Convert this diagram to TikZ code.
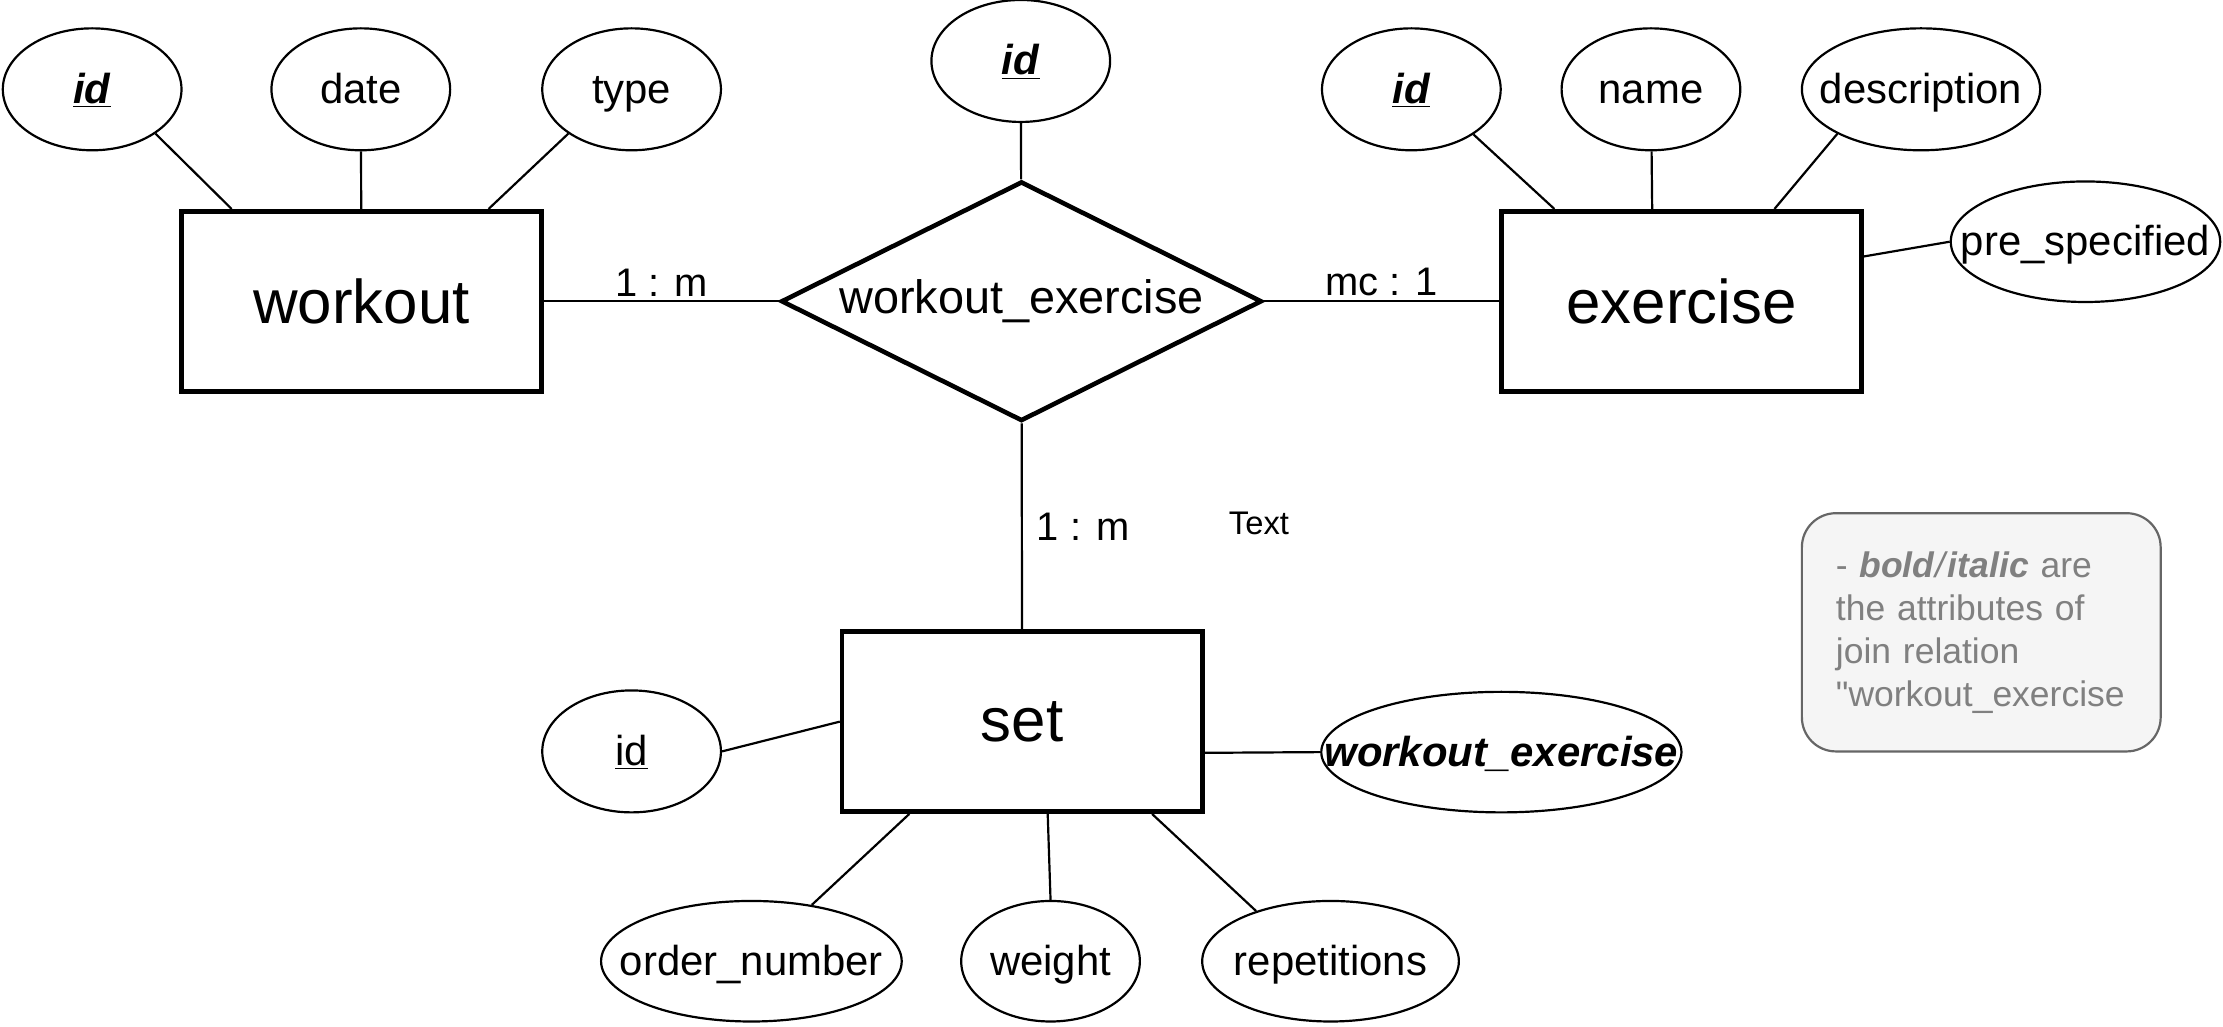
\documentclass[tikz,border=0pt]{standalone}
\usepackage{fontspec}
\setmainfont{Liberation Sans}
\newfontfamily\quotefont{Liberation Sans}
\usepackage{tikz}
\usetikzlibrary{shapes.geometric, positioning}
\definecolor{cN}{HTML}{F5F5F5}
\definecolor{cB}{HTML}{666666}
\definecolor{cT}{HTML}{808080}

\begin{document}
\begin{tikzpicture}[x=0.025cm, y=-0.025cm, line width=1.1pt,
                    entity/.style={rectangle, draw, line width=2.3pt, minimum width=6.35cm, minimum height=3.175cm,
                                   font=\fontsize{31}{37}\selectfont},
                    relation/.style={diamond, draw, line width=2.3pt, aspect=2, inner sep=0pt,
                                     minimum width=8.475cm, minimum height=4.225cm, font=\fontsize{23.5}{28}\selectfont},
                    attr/.style={ellipse, draw, line width=1.1pt, inner sep=0pt, minimum width=3.15cm, minimum height=2.15cm,
                                 label={[font=\fontsize{21}{25}\selectfont, text height=17pt, text depth=3pt]center:#1}},
                    card/.style={font=\fontsize{20}{24}\selectfont, inner sep=2pt}]
    \useasboundingbox (0,0) rectangle (1568,724);

    % Node Placements
    \node[entity]   (W) at (255,212.5)  {workout};
    \node[relation] (R) at (720.5,212.5) {workout\_exercise};
    \node[entity]   (E) at (1186,212.5) {exercise};
    \node[entity]   (S) at (721,509)    {set};

    \node[attr={\underline{\textbf{\textit{id}}}}] (Wid)   at (65,63)    {};
    \node[attr=date]                                (Wdate) at (254.5,63) {};
    \node[attr=type]                                (Wtype) at (445.5,63) {};

    \node[attr={\underline{\textbf{\textit{id}}}}] (Rid)   at (720,43)   {};

    \node[attr={\underline{\textbf{\textit{id}}}}] (Eid)   at (995.5,63) {};
    \node[attr=name]                                (Ename) at (1164.5,63) {};
    \node[attr=description, minimum width=4.2cm]   (Edesc) at (1355,63)  {};
    \node[attr=pre\_specified, minimum width=4.75cm, minimum height=2.125cm] (Epre) at (1471,170.5) {};

    \node[attr={\underline{id}}]                    (Sid)   at (445.5,530) {};
    \node[attr={\textbf{\textit{workout\_exercise}}}, minimum width=6.35cm, minimum height=2.125cm] (Swe) at (1059,530.5) {};
    \node[attr=order\_number, minimum width=5.3cm, minimum height=2.125cm] (Sord) at (530,678) {};
    \node[attr=weight, minimum height=2.125cm]      (Swt)   at (741,678)  {};
    \node[attr=repetitions, minimum width=4.525cm, minimum height=2.125cm] (Srep) at (938.5,678) {};

    \node[font=\fontsize{16.4}{20}\selectfont] (txt) at (888,369) {Text};

    \node[draw=cB, fill=cN, rounded corners=0.6cm, line width=1.1pt, text=cT, align=left,
          text width=5.125cm, inner xsep=0.6cm, minimum height=4.2cm,
          font=\fontsize{17.8}{21.6}\selectfont] (note) at (1397.5,446)
          {- \textbf{\textit{bold}}\textit{/}\textbf{\textit{italic}} are\\the attributes of\\join relation\\{\quotefont"}workout\_exercise};

    % Graph Path Operations
    \path
    (W) edge node [card, above] {1 : m} (R)
    (R) edge node [card, above] {mc : 1} (E)
        edge node [card, right=5pt] {1 : m} (S);

    % Attribute Links
    \draw (Wid.-35)   -- ([xshift=0.925cm]W.north west);
    \draw (Wdate)     -- (W);
    \draw (Wtype.215) -- ([xshift=-0.975cm]W.north east);
    \draw (Rid)       -- (R);
    \draw (Eid.-36)   -- ([xshift=0.975cm]E.north west);
    \draw (Ename)     -- ([xshift=2.7cm]E.north west);
    \draw (Edesc.208) -- ([xshift=-1.575cm]E.north east);
    \draw (Epre.west) -- ([yshift=0.79cm]E.east);
    \draw (Sid.east)  -- (S.west);
    \draw (Swe.west)  -- ([yshift=-0.55cm]S.east);
    \draw (Sord.43)   -- ([xshift=1.225cm]S.south west);
    \draw (Swt.north) -- ([xshift=0.45cm]S.south);
    \draw (Srep.146)  -- ([xshift=-0.925cm]S.south east);
\end{tikzpicture}
\end{document}
